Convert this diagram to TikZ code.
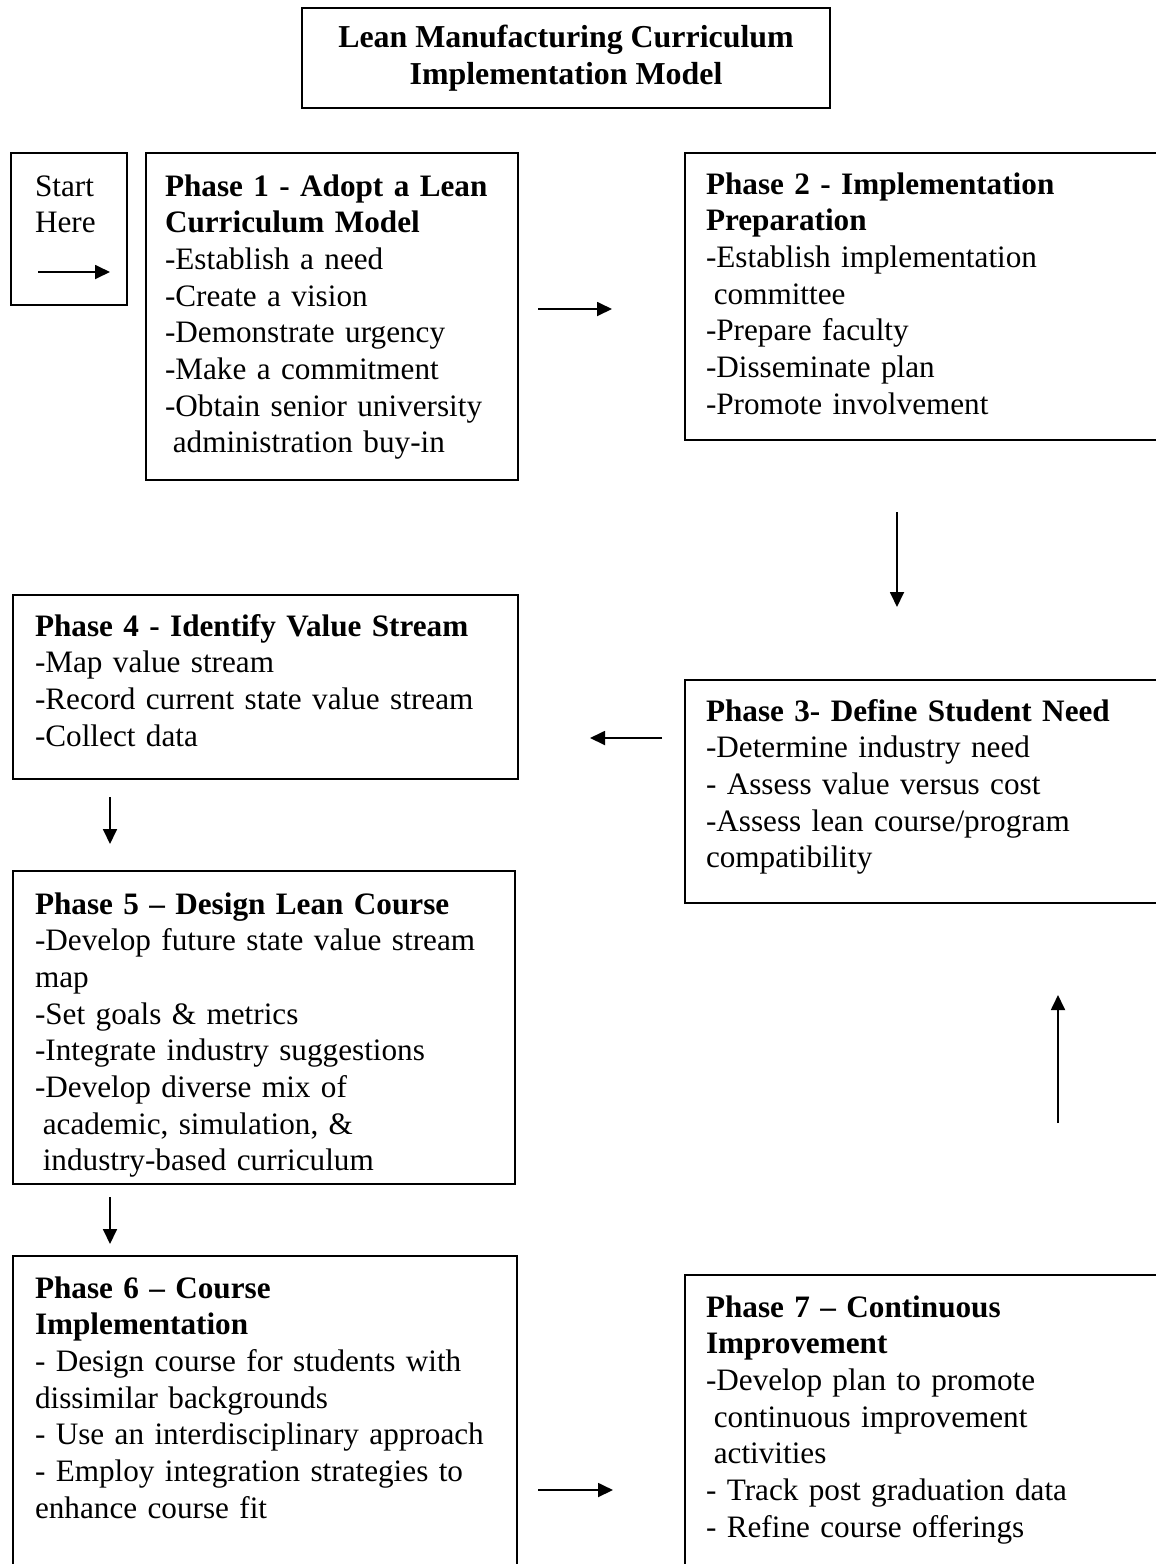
\documentclass[tikz,border=0pt]{standalone}
\usepackage{fontspec}
\setmainfont{Liberation Serif}
\usetikzlibrary{arrows.meta,positioning}
\hyphenpenalty=10000
\begin{document}
\begin{tikzpicture}[x=1pt,y=-1pt,inner sep=0pt,outer sep=0pt,line width=1.8pt,
>={Triangle[length=15pt,width=14pt]},
phasebox/.style={draw,rectangle,anchor=north west,align=left,inner xsep=21pt,
  font=\fontsize{31.2}{36.7}\selectfont},
titlebox/.style={draw,rectangle,align=center,minimum width=528pt,minimum height=100pt,
  font=\fontsize{31.9}{36.7}\selectfont\bfseries}]
\useasboundingbox (0,0) rectangle (1156,1564);
\clip (0,0) rectangle (1156,1564);
\draw (566,58) node[titlebox] (title) {Lean Manufacturing Curriculum\\Implementation Model};
\draw (11,153) node[phasebox,inner xsep=24pt,text width=68pt,text height=43pt,text depth=109pt] (start) {Start\\Here};
\draw (146,153) node[phasebox,inner xsep=19pt,text width=334pt,text height=43pt,text depth=284pt] (ph1)
  {\textbf{Phase 1 - Adopt a Lean}\\\textbf{Curriculum Model}\\-Establish a need\\-Create a vision\\-Demonstrate urgency\\-Make a commitment\\-Obtain senior university\\\hspace*{0.25em}administration buy-in};
\draw (685,153) node[phasebox,text width=453pt,text height=41pt,text depth=246pt] (ph2)
  {\textbf{Phase 2 - Implementation}\\\textbf{Preparation}\\-Establish implementation\\\hspace*{0.25em}committee\\-Prepare faculty\\-Disseminate plan\\-Promote involvement};
\draw (685,680) node[phasebox,text width=453pt,text height=41pt,text depth=182pt] (ph3)
  {\textbf{Phase 3- Define Student Need}\\-Determine industry need\\- Assess value versus cost\\-Assess lean course/program\\compatibility};
\draw (13,595) node[phasebox,inner xsep=22pt,text width=461pt,text height=41pt,text depth=143pt] (ph4)
  {\textbf{Phase 4 - Identify Value Stream}\\-Map value stream\\-Record current state value stream\\-Collect data};
\draw (13,871) node[phasebox,inner xsep=22pt,text width=458pt,text height=43pt,text depth=270pt] (ph5)
  {\textbf{Phase 5 -- Design Lean Course}\\-Develop future state value stream\\map\\-Set goals \& metrics\\-Integrate industry suggestions\\-Develop diverse mix of\\\hspace*{0.25em}academic, simulation, \&\\\hspace*{0.25em}industry-based curriculum};
\draw (13,1256) node[phasebox,inner xsep=22pt,text width=460pt,text height=42pt,text depth=282pt] (ph6)
  {\textbf{Phase 6 -- Course}\\\textbf{Implementation}\\- Design course for students with\\dissimilar backgrounds\\- Use an interdisciplinary approach\\- Employ integration strategies to\\enhance course fit};
\draw (685,1275) node[phasebox,text width=453pt,text height=42pt,text depth=263pt] (ph7)
  {\textbf{Phase 7 -- Continuous}\\\textbf{Improvement}\\-Develop plan to promote\\\hspace*{0.25em}continuous improvement\\\hspace*{0.25em}activities\\- Track post graduation data\\- Refine course offerings};
\coordinate (s0) at (38,272);
\coordinate (s1) at (110,272);
\coordinate (a12) at (538,309);
\coordinate (b12) at (612,309);
\coordinate (a23) at (897,512);
\coordinate (b23) at (897,607);
\coordinate (a34) at (662,738);
\coordinate (b34) at (590,738);
\coordinate (a45) at (110,797);
\coordinate (b45) at (110,844);
\coordinate (a56) at (110,1197);
\coordinate (b56) at (110,1244);
\coordinate (a67) at (538,1490);
\coordinate (b67) at (613,1490);
\coordinate (a73) at (1058,1123);
\coordinate (b73) at (1058,995);
\draw[->] (s0) -- (s1);
\draw[->] (a12) -- (b12);
\draw[->] (a23) -- (b23);
\draw[->] (a34) -- (b34);
\draw[->] (a45) -- (b45);
\draw[->] (a56) -- (b56);
\draw[->] (a67) -- (b67);
\draw[->] (a73) -- (b73);
\end{tikzpicture}
\end{document}
